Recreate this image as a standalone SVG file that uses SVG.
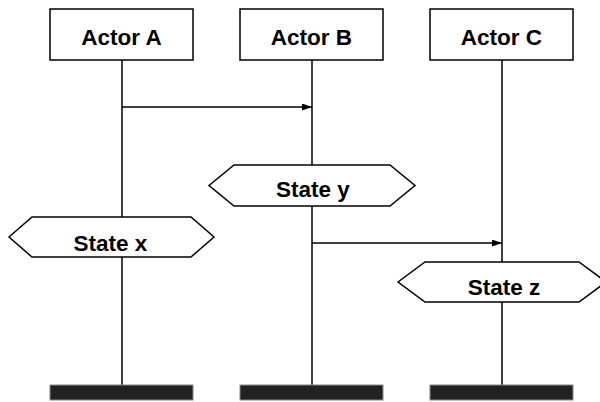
<svg xmlns="http://www.w3.org/2000/svg" width="600" height="402" viewBox="0 0 600 402">
  <defs>
    <style>
      .box { fill: #ffffff; stroke: #000000; stroke-width: 1.5; }
      .life { stroke: #000000; stroke-width: 1.5; fill: none; }
      .msg { stroke: #000000; stroke-width: 1.3; fill: none; marker-end: url(#arrow); }
      .bar { fill: #222222; stroke: #888888; stroke-width: 1; }
      .lbl { font-family: "Liberation Sans", Arial, Helvetica, sans-serif; font-weight: bold; font-size: 22.5px; fill: #000000; text-anchor: middle; }
    </style>
    <marker id="arrow" markerWidth="11" markerHeight="8" refX="10" refY="3.5" orient="auto" markerUnits="userSpaceOnUse">
      <path d="M0,0 L10,3.5 L0,7 Z" fill="#000000"/>
    </marker>
  </defs>

  <!-- lifelines -->
  <g id="lifelines">
    <line class="life" x1="122" y1="60" x2="122" y2="385"/>
    <line class="life" x1="312" y1="60" x2="312" y2="385"/>
    <line class="life" x1="502" y1="60" x2="502" y2="385"/>
  </g>

  <!-- messages -->
  <g id="connectors">
    <line class="msg" x1="122" y1="107" x2="312" y2="107"/>
    <line class="msg" x1="312" y1="243" x2="502" y2="243"/>
  </g>

  <!-- actor heads -->
  <g id="actor-a">
    <rect class="box" x="50" y="9" width="143" height="51"/>
    <text class="lbl" x="121.5" y="45">Actor A</text>
  </g>
  <g id="actor-b">
    <rect class="box" x="240" y="9" width="143" height="51"/>
    <text class="lbl" x="311.5" y="45">Actor B</text>
  </g>
  <g id="actor-c">
    <rect class="box" x="430" y="9" width="143" height="51"/>
    <text class="lbl" x="501.5" y="45">Actor C</text>
  </g>

  <!-- state markers -->
  <g id="state-y">
    <polygon class="box" points="209,185.5 234,165 390,165 415,185.5 390,206 234,206"/>
    <text class="lbl" x="313" y="197">State y</text>
  </g>
  <g id="state-x">
    <polygon class="box" points="9,237 32,217 191,217 214,237 191,257 32,257"/>
    <text class="lbl" x="110.5" y="250.5">State x</text>
  </g>
  <g id="state-z">
    <polygon class="box" points="398,282 425,262 579,262 606,282 579,302 425,302"/>
    <text class="lbl" x="504" y="295">State z</text>
  </g>

  <!-- lifeline ends -->
  <g id="end-a"><rect class="bar" x="50" y="385" width="143" height="15"/></g>
  <g id="end-b"><rect class="bar" x="240" y="385" width="143" height="15"/></g>
  <g id="end-c"><rect class="bar" x="430" y="385" width="143" height="15"/></g>
</svg>
